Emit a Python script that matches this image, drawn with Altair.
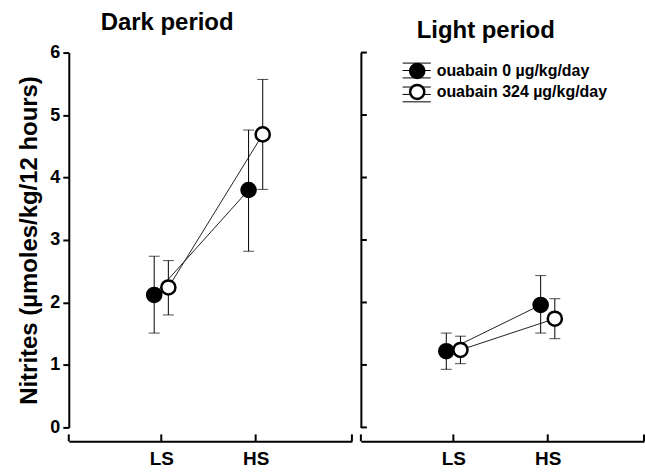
import altair as alt
import pandas as pd

# Categories
salts = ["LS", "HS"]
doses = ["ouabain 0 µg/kg/day", "ouabain 324 µg/kg/day"]

# Dark period: mean and error-bar limits (µmoles/kg/12 hours)
dark_ctrl_mean = [2.12, 3.80]
dark_ctrl_low = [1.51, 2.82]
dark_ctrl_high = [2.74, 4.76]
dark_oua_mean = [2.24, 4.69]
dark_oua_low = [1.80, 3.81]
dark_oua_high = [2.67, 5.57]

# Light period
light_ctrl_mean = [1.22, 1.96]
light_ctrl_low = [0.93, 1.51]
light_ctrl_high = [1.51, 2.43]
light_oua_mean = [1.24, 1.74]
light_oua_low = [1.02, 1.42]
light_oua_high = [1.46, 2.06]

y_ticks = [0, 1, 2, 3, 4, 5, 6]

FONT = "Liberation Sans"
W, H = 284, 376
X_DOMAIN = [0.02, 3.02]
AXIS_GAP = 14
LEG_X, LEG_Y = 48, 10


def frame(cm, cl, ch, om, ol, oh):
    rows = []
    for dose, m, lo, hi in [(doses[0], cm, cl, ch), (doses[1], om, ol, oh)]:
        for i, s in enumerate(salts):
            rows.append({"salt": s, "dose": dose, "mean": m[i], "low": lo[i], "high": hi[i]})
    return pd.DataFrame(rows)


dark_df = frame(dark_ctrl_mean, dark_ctrl_low, dark_ctrl_high,
                dark_oua_mean, dark_oua_low, dark_oua_high)
light_df = frame(light_ctrl_mean, light_ctrl_low, light_ctrl_high,
                 light_oua_mean, light_oua_low, light_oua_high)

# legend glyph: cap lines and the bar on either side of the marker
CAP_PATH = ("M-2,-1.05L2,-1.05 M-2,1.05L2,1.05 "
            "M-2,0L-1,0 M1,0L2,0")

x_pos_expr = (
    "indexof(['%s','%s'], datum.salt) + 1 + (datum.dose == '%s' ? -0.075 : 0.075)"
    % (salts[0], salts[1], doses[0])
)
label_expr = "datum.value == 1 ? '%s' : '%s'" % (salts[0], salts[1])
bar_doses = [d + " " for d in doses]

LEGEND_COMMON = dict(
    title=None, orient="none", legendX=LEG_X, legendY=LEG_Y, symbolSize=200,
    labelFont=FONT, labelFontSize=16, labelFontWeight="bold", labelLimit=0,
    labelOffset=11, rowPadding=-4,
)


def panel(df, title, title_dx, first):
    x_enc = alt.X(
        "xpos:Q",
        scale=alt.Scale(domain=X_DOMAIN, nice=False, zero=False),
        axis=alt.Axis(
            values=[1, 2], labelExpr=label_expr, ticks=False, grid=False,
            offset=AXIS_GAP, domainColor="black", domainWidth=2,
            labelFont=FONT, labelFontSize=19, labelFontWeight="bold",
            labelColor="black", labelPadding=8, title=None,
        ),
    )
    if first:
        y_axis = alt.Axis(
            values=y_ticks, format="d", grid=False, domainColor="black", domainWidth=2,
            tickColor="black", tickSize=6, tickWidth=2,
            labelFont=FONT, labelFontSize=18, labelFontWeight="bold",
            labelColor="black", labelPadding=3,
            title="Nitrites (µmoles/kg/12 hours)", titleFont=FONT,
            titleFontSize=24, titleFontWeight="bold", titleColor="black",
            titlePadding=8,
        )
    else:
        y_axis = alt.Axis(
            values=y_ticks, grid=False, domainColor="black", domainWidth=2,
            ticks=False, labels=False, title=None,
        )
    y_enc = alt.Y("mean:Q", scale=alt.Scale(domain=[0, 6], nice=False), axis=y_axis)

    base = alt.Chart(df).transform_calculate(
        xpos=x_pos_expr, dose_bar="datum.dose + ' '"
    )

    lines = base.mark_line(color="#222222", strokeWidth=1).encode(
        x=x_enc, y=y_enc, detail="dose:N"
    )

    bar_enc = dict(x=x_enc, y=alt.Y("low:Q"), y2="high:Q")
    if not first:
        # glyph-only legend (no labels) laid under the marker legend
        glyph_common = dict(LEGEND_COMMON)
        glyph_common["rowPadding"] = 4
        bar_enc["stroke"] = alt.Stroke(
            "dose_bar:N",
            scale=alt.Scale(domain=bar_doses, range=["black", "black"]),
            legend=alt.Legend(
                symbolType=CAP_PATH, symbolStrokeWidth=1,
                symbolStrokeColor="black", symbolFillColor="transparent",
                labelExpr="''", **glyph_common,
            ),
        )
    bars = base.mark_rule(color="black", strokeWidth=1).encode(**bar_enc)

    caps_low = base.mark_tick(orient="horizontal", size=11, thickness=1, color="black").encode(
        x=x_enc, y=alt.Y("low:Q")
    )
    caps_high = base.mark_tick(orient="horizontal", size=11, thickness=1, color="black").encode(
        x=x_enc, y=alt.Y("high:Q")
    )

    fill_legend = None
    if not first:
        fill_legend = alt.Legend(
            symbolType="circle", symbolStrokeWidth=2.5,
            symbolStrokeColor="black", symbolOpacity=1,
            labelColor="black", **LEGEND_COMMON,
        )
    points = base.mark_point(
        shape="circle", filled=True, size=200, stroke="black", strokeWidth=2.5, opacity=1
    ).encode(
        x=x_enc, y=y_enc,
        fill=alt.Fill("dose:N", scale=alt.Scale(domain=doses, range=["black", "white"]),
                      legend=fill_legend),
    )

    # inward tick marks on the x axis line (ends and category positions)
    xt = pd.DataFrame({"xpos": [X_DOMAIN[0], 1, 2, X_DOMAIN[1]]})
    x_ticks = alt.Chart(xt).mark_rule(color="black", strokeWidth=2).encode(
        x=alt.X("xpos:Q", scale=alt.Scale(domain=X_DOMAIN, nice=False, zero=False)),
        y=alt.value(H + AXIS_GAP), y2=alt.value(H + AXIS_GAP - 7),
    )
    layers = [lines, bars, caps_low, caps_high, points, x_ticks]

    if not first:
        yt = pd.DataFrame({"mean": y_ticks})
        y_in = alt.Chart(yt).mark_rule(color="black", strokeWidth=2).encode(
            y=alt.Y("mean:Q", scale=alt.Scale(domain=[0, 6], nice=False)),
            x=alt.value(0), x2=alt.value(6),
        )
        layers.append(y_in)

    return alt.layer(*layers).properties(
        width=W, height=H,
        title=alt.TitleParams(
            title, anchor="start", frame="group", dx=title_dx, font=FONT, fontSize=24,
            fontWeight="bold", color="black", offset=9,
        ),
    )


left = panel(dark_df, "Dark period", 32, True)
right = panel(light_df, "Light period", 56, False)

chart = (
    alt.hconcat(left, right, spacing=7)
    .resolve_scale(fill="independent", stroke="independent")
    .resolve_legend(fill="independent", stroke="independent")
    .properties(padding={"left": 17, "top": 10, "right": 0, "bottom": 0}, background="white")
    .configure_view(stroke=None)
)

chart.save("out.html", embed_options={"renderer": "svg", "actions": False})
